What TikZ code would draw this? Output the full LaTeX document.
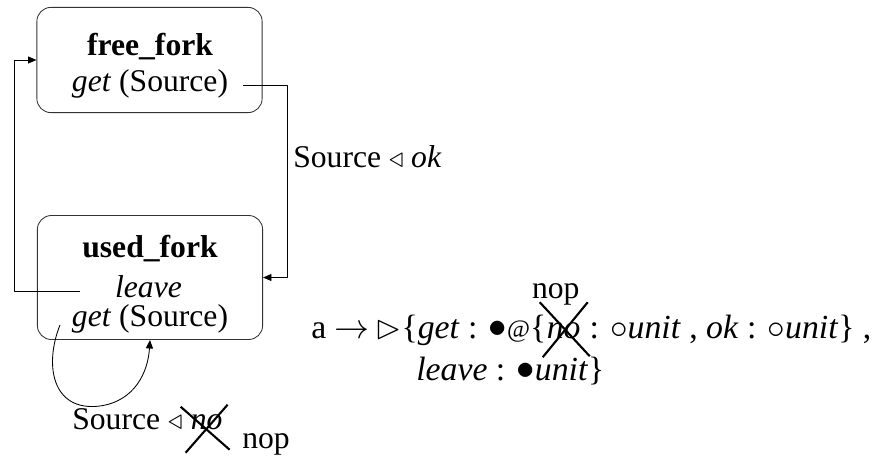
\documentclass[tikz,border=0pt]{standalone}
\usepackage{fontspec}
\setmainfont{Liberation Serif}
\usepackage{amssymb}
\usepackage{graphicx}
\usetikzlibrary{arrows.meta}
\newcommand\fulldot{\raisebox{0.02em}{\scalebox{1.05}{$\bullet$}}}
\newcommand\emptydot{$\circ$}
\newcommand\smallat{\raisebox{0.02em}{\scalebox{0.74}{@}}}
\tikzset{
  every picture/.style={line join=round, >={Triangle[length=6pt,width=5pt]}},
  state/.style={draw=black!80, line width=0.6pt, rounded corners=10pt, minimum width=5.63cm, inner sep=0pt},
  link/.style={line width=0.6pt},
  lbl/.style={font=\fontsize{22.5}{27}\selectfont, inner sep=0pt, anchor=base},
  big/.style={font=\fontsize{24}{29}\selectfont, inner sep=0pt, anchor=base west},
  strike/.style={line width=1.5pt},
}

\begin{document}
\begin{tikzpicture}[x=0.025cm,y=-0.025cm]
\useasboundingbox (0,0) rectangle (879,462);
% the two states
\node[state, minimum height=2.63cm] (free) at (149.5,60) {};
\node[state, minimum height=3.1cm] (used) at (150,277.5) {};
\node[lbl] (freename) at (150,55) {\textbf{free\_fork}};
\node[lbl] (freeget) at (150,91) {\textit{get} (Source)};
\node[lbl] (usedname) at (150,257) {\textbf{used\_fork}};
\node[lbl] (usedleave) at (148.5,297) {\textit{leave}};
\node[lbl] (usedget) at (150,326) {\textit{get} (Source)};
% transitions
\coordinate (freeout) at (243,85);
\coordinate (usedout) at (80,291);
\coordinate (loopst) at (60,325);
\draw[link,->] (freeout) -- ++(44,0) |- (used.east);
\draw[link,->] (usedout) -- ++(-66,0) |- (free.west);
\draw[link,->] (loopst) .. controls (44,365) and (52,412) .. (100,406)
  .. controls (135,401) and (148,372) .. (150,340);
\node[lbl, anchor=base west] (okmsg) at (293,167) {Source $\triangleleft$ \textit{ok}};
% self loop label, struck out
\node[lbl, anchor=base west] (srcmsg) at (72,429) {Source $\triangleleft$\ \mbox{}};
\node[lbl, anchor=base west] (srcno) at (srcmsg.base east) {\textit{no}};
\draw[strike] ([shift={(-26,-15)}]srcno.center) -- ([shift={(23,28)}]srcno.center);
\draw[strike] ([shift={(-21,31)}]srcno.center) -- ([shift={(21,-17)}]srcno.center);
\node[lbl, anchor=base west] (srcnop) at (242,448) {nop};
% session type
\node[big] (typea) at (311,338) {a $\rightarrow$\,$\rhd$\{\textit{get} : \fulldot\smallat\{};
\node[big] (typeno) at (typea.base east) {\textit{no}};
\node[big] (typeb) at (typeno.base east) {\ : \emptydot\textit{unit} , \textit{ok} : \emptydot\textit{unit}\} ,};
\node[big] (typec) at (416,380) {\textit{leave} : \fulldot\textit{unit}\}};
\draw[strike] ([shift={(-24,-28)}]typeno.center) -- ([shift={(26,26)}]typeno.center);
\draw[strike] ([shift={(-21,27)}]typeno.center) -- ([shift={(24,-28)}]typeno.center);
\node[lbl] (typenop) at ([shift={(-8,-40)}]typeno.base) {nop};
\end{tikzpicture}
\end{document}
